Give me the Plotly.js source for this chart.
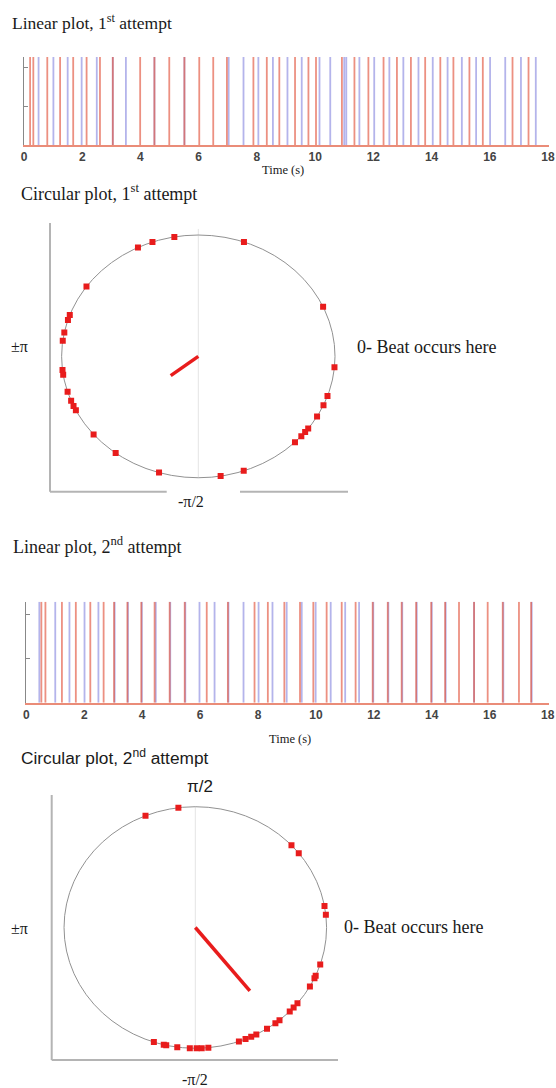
<!DOCTYPE html>
<html><head><meta charset="utf-8">
<script src="https://cdn.plot.ly/plotly-3.0.1.min.js"></script>
<style>html,body{margin:0;padding:0;background:#fff;}#chart{width:556px;height:1088px;}</style>
</head><body><div id="chart"></div>
<script>
// ---- data ----
const tickLabelsTime = [0, 2, 4, 6, 8, 10, 12, 14, 16, 18];

// Linear plot, 1st attempt (seconds)
const beats1 = [0.50,1.01,1.50,1.98,2.50,3.05,3.50,4.48,5.51,7.03,7.54,8.05,8.55,9.05,9.54,10.15,10.52,11.00,11.07,11.52,12.03,12.55,13.03,13.55,14.04,14.55,15.04,15.53,16.01,16.53,17.07,17.58];
const taps1  = [0.21,0.32,0.80,1.24,1.69,2.15,2.61,3.05,3.99,4.48,4.99,5.51,6.02,6.50,6.97,7.88,8.34,8.77,9.31,9.77,10.03,10.92,11.35,11.83,12.35,12.81,13.29,13.78,14.30,14.75,15.30,15.76,16.78,17.33];

// Linear plot, 2nd attempt (seconds)
const beats2 = [0.45,1.00,1.49,2.01,2.49,3.05,3.51,3.99,4.47,4.97,5.49,5.98,6.50,6.98,7.50,8.02,8.50,8.99,9.51,9.99,10.51,11.01,11.49,11.98,12.50,12.98,13.48,14.00,14.48,15.46,16.47,17.45];
const taps2  = [0.52,0.66,1.23,1.71,2.21,2.67,3.03,3.49,3.97,4.43,4.95,5.47,6.23,6.96,7.88,8.34,8.91,9.45,9.91,10.37,10.89,11.37,11.96,12.48,12.96,13.46,13.98,14.46,14.94,15.46,15.93,16.45,17.01,17.43];

// Circular plots: tap phases (degrees) and mean vector
const phases1 = [116.2,109.6,100.1,70.5,144.9,24.1,-5.1,-19.1,-23.7,-29.7,-36.5,-38.6,-41.1,-45.0,-70.6,-80.6,-106.7,-127.2,-140.0,-153.6,-155.9,-158.5,-163.0,-171.3,-173.5,172.6,168.6,162.5,160.1];
const meanAngle1 = -141.8, meanLength1 = 0.257;
const phases2 = [112.3,97.4,42.9,38.0,10.2,6.0,-17.9,-23.5,-24.8,-29.2,-38.9,-41.5,-44.0,-50.1,-52.4,-56.9,-62.3,-64.8,-67.5,-70.6,-84.3,-87.2,-89.4,-92.4,-97.9,-102.8,-103.9,-108.4];
const meanAngle2 = -51.6, meanLength2 = 0.669;

// ---- helpers ----
const W = 556, H = 1088;
const fx = px => px / W;
const fy = py => 1 - py / H;
const rad = d => d * Math.PI / 180;

const BLUE = 'rgba(105,105,215,0.5)';
const RED = 'rgba(226,85,62,0.65)';
const DOT = 'rgb(232,28,28)';

function vlines(times, top, color, xa, ya) {
  const x = [], y = [];
  times.forEach(t => { x.push(t, t, null); y.push(0, top, null); });
  return {type:'scatter', mode:'lines', x, y, xaxis:xa, yaxis:ya,
          line:{color, width:1.8}, hoverinfo:'skip', showlegend:false};
}
function dots(ph, xa, ya) {
  return {type:'scatter', mode:'markers', xaxis:xa, yaxis:ya,
          x: ph.map(d => Math.cos(rad(d))), y: ph.map(d => Math.sin(rad(d))),
          marker:{symbol:'square', size:6, color:DOT}, hoverinfo:'skip', showlegend:false};
}
function meanVec(a, r, xa, ya) {
  return {type:'scatter', mode:'lines', xaxis:xa, yaxis:ya,
          x:[0, r*Math.cos(rad(a))], y:[0, r*Math.sin(rad(a))],
          line:{color:DOT, width:3.5}, hoverinfo:'skip', showlegend:false};
}

const TOP1 = 1.13, TOP2 = 1.14;
const traces = [
  vlines(beats1, TOP1, BLUE, 'x', 'y'),
  vlines(taps1, TOP1, RED, 'x', 'y'),
  vlines(beats2, TOP2, BLUE, 'x2', 'y2'),
  vlines(taps2, TOP2, RED, 'x2', 'y2'),
  meanVec(meanAngle1, meanLength1, 'x3', 'y3'),
  dots(phases1, 'x3', 'y3'),
  meanVec(meanAngle2, meanLength2, 'x4', 'y4'),
  dots(phases2, 'x4', 'y4')
];

const tickFont = {family:'Liberation Sans, Arial, sans-serif', size:12, color:'#444', weight:'bold'};
function timeAxis(domain) {
  return {domain, range:[0,18.03], tickvals:tickLabelsTime, ticktext:tickLabelsTime.map(String),
          showgrid:false, zeroline:false, showline:true, linecolor:'rgb(234,140,120)', linewidth:2,
          ticks:'', tickfont:tickFont, ticklabeloverflow:'allow', fixedrange:true};
}
function levelAxis(domain, top) {
  return {domain, range:[0,top], showline:true, linecolor:'#888', linewidth:1.5,
          ticks:'inside', tickvals:[0.5,1], ticklen:4, tickcolor:'#888', showticklabels:false,
          showgrid:false, zeroline:false, fixedrange:true};
}
const hidden = (domain, range) => ({domain, range, visible:false, showgrid:false, zeroline:false, fixedrange:true});

const SERIF = 'Liberation Serif, Times New Roman, serif';
const SANS = 'Liberation Sans, Arial, sans-serif';
function txt(text, px, py, size, family, xanchor) {
  return {text, x:fx(px), y:fy(py), xref:'paper', yref:'paper', xanchor:xanchor||'left', yanchor:'middle',
          showarrow:false, font:{family, size, color:'#1a1a1a'}};
}
function pline(x0, y0, x1, y1, color, width) {
  return {type:'line', xref:'paper', yref:'paper', x0:fx(x0), y0:fy(y0), x1:fx(x1), y1:fy(y1),
          line:{color, width}};
}

const layout = {
  width:W, height:H, margin:{l:0,r:0,t:0,b:0}, paper_bgcolor:'#fff', plot_bgcolor:'rgba(0,0,0,0)',
  showlegend:false,
  xaxis: Object.assign(timeAxis([fx(24), fx(548.9)]), {anchor:'y'}),
  yaxis: Object.assign(levelAxis([fy(145), fy(57)], TOP1), {anchor:'x'}),
  xaxis2: Object.assign(timeAxis([fx(26.3), fx(548.5)]), {anchor:'y2'}),
  yaxis2: Object.assign(levelAxis([fy(702.7), fy(601.7)], TOP2), {anchor:'x2'}),
  xaxis3: Object.assign(hidden([fx(50), fx(348)], [-1.085, 1.095]), {anchor:'y3'}),
  yaxis3: Object.assign(hidden([fy(491.7), fy(223)], [-1.115, 1.099]), {anchor:'x3'}),
  xaxis4: Object.assign(hidden([fx(51.7), fx(338)], [-1.094, 1.087]), {anchor:'y4'}),
  yaxis4: Object.assign(hidden([fy(1060), fy(795)], [-1.097, 1.097]), {anchor:'x4'}),
  shapes: [
    {type:'line', xref:'x3', yref:'y3', x0:0, x1:0, y0:-1, y1:1.05, line:{color:'rgb(228,228,228)', width:1}, layer:'below'},
    {type:'circle', xref:'x3', yref:'y3', x0:-1, x1:1, y0:-1, y1:1, line:{color:'rgb(145,145,145)', width:1}, layer:'below'},
    {type:'line', xref:'x4', yref:'y4', x0:0, x1:0, y0:-1, y1:1, line:{color:'rgb(228,228,228)', width:1}, layer:'below'},
    {type:'circle', xref:'x4', yref:'y4', x0:-1, x1:1, y0:-1, y1:1, line:{color:'rgb(145,145,145)', width:1}, layer:'below'},
    pline(50, 223, 50, 491.7, 'rgb(180,180,180)', 2),
    pline(50, 491.7, 166.7, 491.7, 'rgb(180,180,180)', 2),
    pline(240, 491.7, 348, 491.7, 'rgb(180,180,180)', 2),
    pline(51.7, 795, 51.7, 1060, 'rgb(180,180,180)', 2),
    pline(51.7, 1060, 338, 1060, 'rgb(180,180,180)', 2)
  ],
  annotations: [
    txt('Linear plot, 1<sup>st</sup> attempt', 10, 22, 17.5, SERIF),
    txt('Time (s)', 283, 170, 12.5, SERIF, 'center'),
    txt('Circular plot, 1<sup>st</sup> attempt', 19, 192, 18, SERIF),
    txt('±π', 9, 346, 16, SERIF),
    txt('0- Beat occurs here', 355, 347, 18, SERIF),
    txt('-π/2', 190.5, 501, 16, SERIF, 'center'),
    txt('Linear plot, 2<sup>nd</sup> attempt', 11, 545, 18, SERIF),
    txt('Time (s)', 290, 739, 12.5, SERIF, 'center'),
    txt('Circular plot, 2<sup>nd</sup> attempt', 19, 757, 17.3, SANS),
    txt('π/2', 200, 786, 17, SANS, 'center'),
    txt('±π', 9, 928, 16, SERIF),
    txt('0- Beat occurs here', 342, 927, 18, SERIF),
    txt('-π/2', 195, 1079, 16, SERIF, 'center')
  ]
};

Plotly.newPlot('chart', traces, layout, {staticPlot:true, displayModeBar:false});
</script>
</body></html>
